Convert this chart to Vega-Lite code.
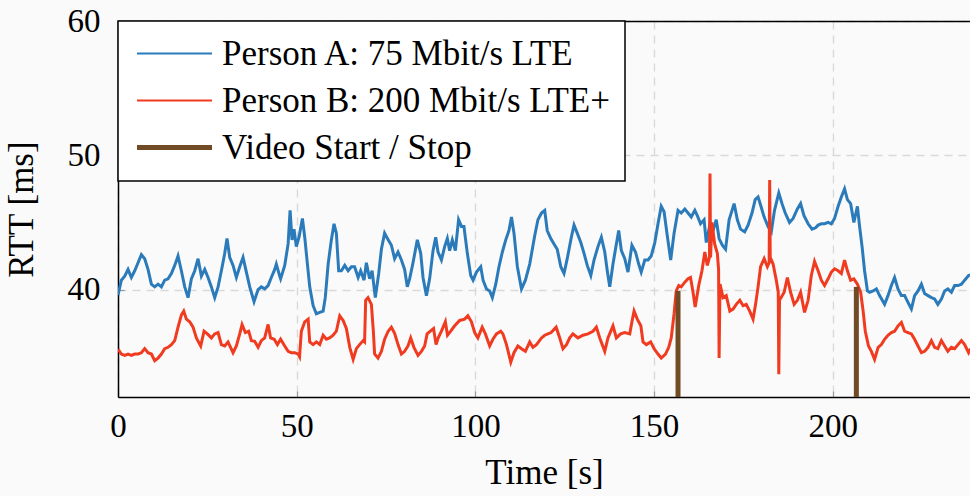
{
  "$schema": "https://vega.github.io/schema/vega-lite/v6.json",
  "width": 852,
  "height": 376,
  "autosize": {"type": "none"},
  "padding": {"left": 118, "top": 21, "right": 0, "bottom": 99},
  "background": "#fafafa",
  "config": {
    "view": {"stroke": null},
    "font": "Liberation Serif",
    "axis": {
      "domainColor": "black", "domainWidth": 1.5,
      "labelFont": "Liberation Serif", "labelFontSize": 33, "labelColor": "black",
      "titleFont": "Liberation Serif", "titleFontSize": 35, "titleFontWeight": "normal", "titleColor": "black",
      "tickColor": "#9a9a9a", "tickWidth": 1.2, "tickSize": -6,
      "gridColor": "#d9d9d9", "gridDash": [8, 6], "gridWidth": 1.4
    }
  },
  "datasets": {
    "rtt": [
      {"t":0.0,"rtt":39.6,"s":"A"},{"t":0.94,"rtt":40.7,"s":"A"},{"t":1.88,"rtt":41.0,"s":"A"},{"t":2.81,"rtt":41.5,"s":"A"},{"t":3.74,"rtt":40.9,"s":"A"},{"t":4.67,"rtt":41.4,"s":"A"},{"t":5.61,"rtt":42.0,"s":"A"},{"t":6.54,"rtt":42.6,"s":"A"},{"t":7.47,"rtt":42.3,"s":"A"},{"t":8.4,"rtt":41.5,"s":"A"},{"t":9.34,"rtt":40.4,"s":"A"},{"t":10.27,"rtt":40.2,"s":"A"},{"t":11.2,"rtt":40.4,"s":"A"},{"t":12.14,"rtt":40.2,"s":"A"},{"t":13.07,"rtt":40.7,"s":"A"},{"t":14.0,"rtt":40.8,"s":"A"},{"t":14.93,"rtt":41.2,"s":"A"},{"t":15.87,"rtt":41.8,"s":"A"},{"t":16.8,"rtt":42.5,"s":"A"},{"t":17.73,"rtt":41.4,"s":"A"},{"t":18.67,"rtt":40.2,"s":"A"},{"t":19.6,"rtt":39.4,"s":"A"},{"t":20.53,"rtt":40.8,"s":"A"},{"t":21.47,"rtt":41.4,"s":"A"},{"t":22.4,"rtt":42.3,"s":"A"},{"t":23.33,"rtt":41.0,"s":"A"},{"t":24.27,"rtt":41.5,"s":"A"},{"t":25.2,"rtt":40.9,"s":"A"},{"t":26.13,"rtt":40.2,"s":"A"},{"t":27.06,"rtt":39.4,"s":"A"},{"t":28.0,"rtt":40.2,"s":"A"},{"t":28.93,"rtt":41.4,"s":"A"},{"t":29.86,"rtt":42.7,"s":"A"},{"t":30.5,"rtt":43.8,"s":"A"},{"t":31.26,"rtt":42.4,"s":"A"},{"t":32.19,"rtt":41.8,"s":"A"},{"t":33.12,"rtt":40.9,"s":"A"},{"t":34.06,"rtt":41.7,"s":"A"},{"t":34.99,"rtt":42.4,"s":"A"},{"t":35.92,"rtt":41.3,"s":"A"},{"t":36.86,"rtt":40.2,"s":"A"},{"t":38.07,"rtt":39.1,"s":"A"},{"t":39.2,"rtt":40.0,"s":"A"},{"t":40.1,"rtt":40.2,"s":"A"},{"t":41.05,"rtt":40.05,"s":"A"},{"t":42.0,"rtt":40.3,"s":"A"},{"t":42.9,"rtt":40.9,"s":"A"},{"t":43.85,"rtt":41.5,"s":"A"},{"t":44.3,"rtt":41.9,"s":"A"},{"t":45.25,"rtt":41.0,"s":"A"},{"t":45.5,"rtt":40.8,"s":"A"},{"t":46.65,"rtt":41.8,"s":"A"},{"t":47.6,"rtt":43.4,"s":"A"},{"t":48.15,"rtt":45.9,"s":"A"},{"t":48.7,"rtt":43.7,"s":"A"},{"t":49.25,"rtt":44.5,"s":"A"},{"t":49.9,"rtt":43.2,"s":"A"},{"t":50.65,"rtt":43.9,"s":"A"},{"t":51.6,"rtt":45.3,"s":"A"},{"t":52.25,"rtt":43.9,"s":"A"},{"t":53.0,"rtt":41.9,"s":"A"},{"t":53.65,"rtt":40.2,"s":"A"},{"t":54.6,"rtt":38.8,"s":"A"},{"t":55.5,"rtt":38.2,"s":"A"},{"t":56.45,"rtt":38.3,"s":"A"},{"t":57.4,"rtt":38.4,"s":"A"},{"t":58.0,"rtt":39.4,"s":"A"},{"t":58.8,"rtt":41.9,"s":"A"},{"t":59.7,"rtt":43.7,"s":"A"},{"t":60.45,"rtt":44.9,"s":"A"},{"t":61.1,"rtt":44.2,"s":"A"},{"t":61.75,"rtt":41.4,"s":"A"},{"t":62.5,"rtt":41.4,"s":"A"},{"t":63.45,"rtt":41.8,"s":"A"},{"t":64.4,"rtt":41.4,"s":"A"},{"t":65.3,"rtt":41.7,"s":"A"},{"t":66.2,"rtt":41.7,"s":"A"},{"t":67.2,"rtt":40.9,"s":"A"},{"t":67.9,"rtt":41.4,"s":"A"},{"t":68.85,"rtt":40.7,"s":"A"},{"t":69.5,"rtt":42.0,"s":"A"},{"t":70.4,"rtt":40.8,"s":"A"},{"t":71.1,"rtt":41.4,"s":"A"},{"t":72.0,"rtt":39.4,"s":"A"},{"t":72.95,"rtt":41.2,"s":"A"},{"t":73.7,"rtt":43.0,"s":"A"},{"t":74.6,"rtt":44.2,"s":"A"},{"t":75.6,"rtt":43.7,"s":"A"},{"t":76.5,"rtt":43.3,"s":"A"},{"t":77.4,"rtt":42.3,"s":"A"},{"t":78.35,"rtt":42.8,"s":"A"},{"t":79.3,"rtt":42.2,"s":"A"},{"t":80.2,"rtt":41.5,"s":"A"},{"t":80.95,"rtt":40.2,"s":"A"},{"t":81.6,"rtt":40.8,"s":"A"},{"t":82.55,"rtt":42.0,"s":"A"},{"t":83.75,"rtt":43.7,"s":"A"},{"t":84.7,"rtt":42.7,"s":"A"},{"t":85.35,"rtt":40.9,"s":"A"},{"t":86.3,"rtt":39.55,"s":"A"},{"t":87.2,"rtt":40.8,"s":"A"},{"t":88.15,"rtt":42.9,"s":"A"},{"t":88.9,"rtt":43.9,"s":"A"},{"t":89.55,"rtt":42.8,"s":"A"},{"t":90.5,"rtt":42.2,"s":"A"},{"t":91.4,"rtt":43.2,"s":"A"},{"t":92.15,"rtt":43.8,"s":"A"},{"t":92.8,"rtt":42.9,"s":"A"},{"t":93.55,"rtt":43.7,"s":"A"},{"t":94.4,"rtt":42.9,"s":"A"},{"t":95.3,"rtt":45.2,"s":"A"},{"t":96.1,"rtt":44.7,"s":"A"},{"t":96.8,"rtt":44.7,"s":"A"},{"t":97.75,"rtt":42.7,"s":"A"},{"t":98.7,"rtt":41.05,"s":"A"},{"t":99.35,"rtt":40.7,"s":"A"},{"t":100.3,"rtt":41.3,"s":"A"},{"t":101.5,"rtt":41.7,"s":"A"},{"t":102.15,"rtt":40.7,"s":"A"},{"t":103.1,"rtt":40.05,"s":"A"},{"t":104.0,"rtt":39.9,"s":"A"},{"t":104.75,"rtt":39.4,"s":"A"},{"t":105.7,"rtt":40.4,"s":"A"},{"t":106.6,"rtt":41.7,"s":"A"},{"t":107.55,"rtt":42.8,"s":"A"},{"t":108.5,"rtt":43.7,"s":"A"},{"t":109.4,"rtt":44.4,"s":"A"},{"t":110.1,"rtt":45.4,"s":"A"},{"t":110.8,"rtt":44.2,"s":"A"},{"t":111.75,"rtt":41.7,"s":"A"},{"t":112.9,"rtt":40.05,"s":"A"},{"t":114.0,"rtt":40.7,"s":"A"},{"t":115.2,"rtt":41.9,"s":"A"},{"t":116.6,"rtt":44.0,"s":"A"},{"t":117.5,"rtt":45.2,"s":"A"},{"t":118.5,"rtt":45.7,"s":"A"},{"t":119.4,"rtt":45.9,"s":"A"},{"t":120.1,"rtt":44.4,"s":"A"},{"t":121.1,"rtt":43.8,"s":"A"},{"t":122.0,"rtt":43.4,"s":"A"},{"t":122.9,"rtt":43.0,"s":"A"},{"t":123.9,"rtt":41.7,"s":"A"},{"t":124.8,"rtt":41.2,"s":"A"},{"t":125.7,"rtt":42.3,"s":"A"},{"t":126.85,"rtt":43.9,"s":"A"},{"t":127.6,"rtt":44.8,"s":"A"},{"t":128.5,"rtt":44.2,"s":"A"},{"t":129.5,"rtt":43.5,"s":"A"},{"t":130.4,"rtt":42.7,"s":"A"},{"t":131.3,"rtt":41.8,"s":"A"},{"t":132.3,"rtt":41.05,"s":"A"},{"t":133.2,"rtt":42.2,"s":"A"},{"t":134.3,"rtt":43.2,"s":"A"},{"t":135.25,"rtt":43.9,"s":"A"},{"t":136.2,"rtt":42.8,"s":"A"},{"t":136.9,"rtt":41.4,"s":"A"},{"t":137.6,"rtt":40.2,"s":"A"},{"t":138.5,"rtt":41.9,"s":"A"},{"t":139.45,"rtt":43.4,"s":"A"},{"t":140.1,"rtt":44.4,"s":"A"},{"t":140.85,"rtt":42.9,"s":"A"},{"t":141.8,"rtt":42.3,"s":"A"},{"t":142.7,"rtt":41.3,"s":"A"},{"t":143.8,"rtt":43.3,"s":"A"},{"t":144.8,"rtt":42.8,"s":"A"},{"t":145.7,"rtt":41.9,"s":"A"},{"t":146.4,"rtt":41.3,"s":"A"},{"t":147.4,"rtt":42.2,"s":"A"},{"t":148.3,"rtt":42.2,"s":"A"},{"t":149.2,"rtt":42.5,"s":"A"},{"t":150.2,"rtt":43.5,"s":"A"},{"t":151.1,"rtt":44.9,"s":"A"},{"t":152.0,"rtt":46.2,"s":"A"},{"t":152.8,"rtt":45.8,"s":"A"},{"t":153.7,"rtt":44.0,"s":"A"},{"t":154.65,"rtt":42.2,"s":"A"},{"t":155.6,"rtt":44.2,"s":"A"},{"t":156.7,"rtt":45.9,"s":"A"},{"t":157.6,"rtt":45.7,"s":"A"},{"t":158.6,"rtt":46.0,"s":"A"},{"t":159.5,"rtt":45.7,"s":"A"},{"t":160.4,"rtt":45.4,"s":"A"},{"t":161.4,"rtt":45.9,"s":"A"},{"t":162.1,"rtt":45.5,"s":"A"},{"t":163.0,"rtt":44.9,"s":"A"},{"t":164.0,"rtt":45.2,"s":"A"},{"t":164.6,"rtt":43.5,"s":"A"},{"t":165.6,"rtt":44.8,"s":"A"},{"t":166.5,"rtt":44.4,"s":"A"},{"t":167.4,"rtt":45.2,"s":"A"},{"t":168.2,"rtt":43.8,"s":"A"},{"t":169.1,"rtt":43.3,"s":"A"},{"t":170.0,"rtt":43.0,"s":"A"},{"t":171.0,"rtt":45.2,"s":"A"},{"t":172.4,"rtt":46.4,"s":"A"},{"t":173.3,"rtt":45.2,"s":"A"},{"t":174.2,"rtt":44.5,"s":"A"},{"t":175.35,"rtt":44.3,"s":"A"},{"t":176.3,"rtt":44.8,"s":"A"},{"t":177.4,"rtt":45.7,"s":"A"},{"t":178.3,"rtt":46.7,"s":"A"},{"t":179.1,"rtt":46.9,"s":"A"},{"t":179.8,"rtt":46.3,"s":"A"},{"t":180.8,"rtt":45.4,"s":"A"},{"t":181.9,"rtt":44.7,"s":"A"},{"t":182.8,"rtt":44.3,"s":"A"},{"t":183.7,"rtt":45.9,"s":"A"},{"t":184.9,"rtt":47.2,"s":"A"},{"t":185.8,"rtt":46.4,"s":"A"},{"t":186.7,"rtt":45.7,"s":"A"},{"t":187.9,"rtt":45.0,"s":"A"},{"t":188.9,"rtt":45.3,"s":"A"},{"t":190.1,"rtt":46.0,"s":"A"},{"t":191.0,"rtt":46.4,"s":"A"},{"t":191.95,"rtt":45.5,"s":"A"},{"t":193.1,"rtt":44.9,"s":"A"},{"t":194.2,"rtt":44.5,"s":"A"},{"t":195.2,"rtt":44.6,"s":"A"},{"t":195.9,"rtt":44.8,"s":"A"},{"t":196.8,"rtt":44.9,"s":"A"},{"t":197.7,"rtt":44.9,"s":"A"},{"t":198.7,"rtt":45.0,"s":"A"},{"t":199.6,"rtt":44.9,"s":"A"},{"t":200.5,"rtt":45.3,"s":"A"},{"t":201.5,"rtt":46.2,"s":"A"},{"t":202.4,"rtt":46.9,"s":"A"},{"t":203.3,"rtt":47.5,"s":"A"},{"t":204.1,"rtt":46.7,"s":"A"},{"t":205.0,"rtt":46.4,"s":"A"},{"t":205.9,"rtt":45.0,"s":"A"},{"t":206.9,"rtt":46.2,"s":"A"},{"t":207.5,"rtt":44.7,"s":"A"},{"t":208.2,"rtt":43.2,"s":"A"},{"t":208.9,"rtt":41.4,"s":"A"},{"t":209.7,"rtt":39.9,"s":"A"},{"t":210.3,"rtt":39.8,"s":"A"},{"t":211.3,"rtt":39.9,"s":"A"},{"t":212.2,"rtt":40.05,"s":"A"},{"t":213.1,"rtt":39.55,"s":"A"},{"t":214.5,"rtt":38.9,"s":"A"},{"t":215.45,"rtt":39.55,"s":"A"},{"t":216.4,"rtt":40.3,"s":"A"},{"t":217.3,"rtt":40.9,"s":"A"},{"t":218.25,"rtt":40.05,"s":"A"},{"t":219.2,"rtt":39.55,"s":"A"},{"t":220.1,"rtt":39.55,"s":"A"},{"t":221.05,"rtt":39.05,"s":"A"},{"t":222.0,"rtt":38.55,"s":"A"},{"t":222.9,"rtt":39.55,"s":"A"},{"t":223.85,"rtt":39.9,"s":"A"},{"t":224.8,"rtt":40.4,"s":"A"},{"t":225.7,"rtt":39.7,"s":"A"},{"t":226.65,"rtt":39.55,"s":"A"},{"t":227.6,"rtt":39.4,"s":"A"},{"t":228.5,"rtt":39.3,"s":"A"},{"t":229.4,"rtt":38.9,"s":"A"},{"t":230.4,"rtt":39.3,"s":"A"},{"t":231.3,"rtt":39.9,"s":"A"},{"t":232.2,"rtt":40.05,"s":"A"},{"t":233.2,"rtt":39.8,"s":"A"},{"t":234.1,"rtt":40.3,"s":"A"},{"t":235.05,"rtt":40.3,"s":"A"},{"t":236.0,"rtt":40.4,"s":"A"},{"t":236.9,"rtt":40.7,"s":"A"},{"t":238.0,"rtt":41.05,"s":"A"},{"t":238.6,"rtt":41.1,"s":"A"},

      {"t":0.0,"rtt":35.56,"s":"B"},{"t":0.94,"rtt":35.2,"s":"B"},{"t":1.88,"rtt":35.1,"s":"B"},{"t":2.81,"rtt":35.2,"s":"B"},{"t":3.74,"rtt":35.1,"s":"B"},{"t":4.67,"rtt":35.2,"s":"B"},{"t":5.61,"rtt":35.2,"s":"B"},{"t":6.54,"rtt":35.3,"s":"B"},{"t":7.47,"rtt":35.6,"s":"B"},{"t":8.4,"rtt":35.3,"s":"B"},{"t":9.34,"rtt":35.2,"s":"B"},{"t":10.27,"rtt":34.7,"s":"B"},{"t":11.2,"rtt":34.9,"s":"B"},{"t":12.14,"rtt":35.2,"s":"B"},{"t":13.07,"rtt":35.6,"s":"B"},{"t":14.0,"rtt":35.7,"s":"B"},{"t":14.93,"rtt":35.9,"s":"B"},{"t":15.87,"rtt":36.2,"s":"B"},{"t":16.8,"rtt":37.2,"s":"B"},{"t":17.73,"rtt":38.1,"s":"B"},{"t":18.39,"rtt":38.4,"s":"B"},{"t":19.14,"rtt":37.8,"s":"B"},{"t":20.07,"rtt":37.6,"s":"B"},{"t":21.0,"rtt":37.2,"s":"B"},{"t":21.93,"rtt":36.4,"s":"B"},{"t":23.14,"rtt":35.8,"s":"B"},{"t":24.08,"rtt":36.9,"s":"B"},{"t":25.01,"rtt":36.7,"s":"B"},{"t":26.13,"rtt":36.4,"s":"B"},{"t":27.06,"rtt":36.7,"s":"B"},{"t":28.0,"rtt":36.8,"s":"B"},{"t":28.93,"rtt":35.9,"s":"B"},{"t":29.86,"rtt":35.8,"s":"B"},{"t":30.79,"rtt":36.1,"s":"B"},{"t":32.19,"rtt":35.3,"s":"B"},{"t":33.12,"rtt":35.8,"s":"B"},{"t":34.06,"rtt":36.7,"s":"B"},{"t":34.71,"rtt":37.4,"s":"B"},{"t":35.64,"rtt":36.8,"s":"B"},{"t":36.58,"rtt":36.9,"s":"B"},{"t":37.32,"rtt":36.2,"s":"B"},{"t":38.25,"rtt":36.15,"s":"B"},{"t":39.2,"rtt":35.7,"s":"B"},{"t":40.1,"rtt":36.2,"s":"B"},{"t":41.05,"rtt":36.4,"s":"B"},{"t":42.0,"rtt":37.4,"s":"B"},{"t":42.7,"rtt":36.4,"s":"B"},{"t":43.7,"rtt":36.3,"s":"B"},{"t":44.6,"rtt":35.9,"s":"B"},{"t":45.5,"rtt":36.3,"s":"B"},{"t":46.65,"rtt":35.8,"s":"B"},{"t":47.6,"rtt":35.4,"s":"B"},{"t":48.5,"rtt":35.3,"s":"B"},{"t":49.45,"rtt":35.3,"s":"B"},{"t":50.4,"rtt":35.2,"s":"B"},{"t":50.8,"rtt":35.0,"s":"B"},{"t":51.3,"rtt":36.9,"s":"B"},{"t":52.25,"rtt":37.6,"s":"B"},{"t":53.2,"rtt":37.8,"s":"B"},{"t":53.65,"rtt":36.1,"s":"B"},{"t":54.6,"rtt":35.9,"s":"B"},{"t":55.5,"rtt":36.1,"s":"B"},{"t":56.45,"rtt":35.9,"s":"B"},{"t":57.4,"rtt":36.6,"s":"B"},{"t":58.3,"rtt":36.3,"s":"B"},{"t":59.2,"rtt":36.4,"s":"B"},{"t":60.2,"rtt":36.6,"s":"B"},{"t":61.1,"rtt":36.9,"s":"B"},{"t":62.05,"rtt":38.05,"s":"B"},{"t":63.0,"rtt":37.7,"s":"B"},{"t":63.9,"rtt":37.1,"s":"B"},{"t":64.85,"rtt":35.7,"s":"B"},{"t":65.8,"rtt":34.8,"s":"B"},{"t":66.7,"rtt":35.6,"s":"B"},{"t":67.6,"rtt":35.9,"s":"B"},{"t":68.6,"rtt":36.2,"s":"B"},{"t":69.0,"rtt":36.1,"s":"B"},{"t":69.3,"rtt":39.2,"s":"B"},{"t":69.95,"rtt":39.4,"s":"B"},{"t":70.9,"rtt":38.9,"s":"B"},{"t":71.45,"rtt":36.9,"s":"B"},{"t":71.8,"rtt":35.2,"s":"B"},{"t":72.75,"rtt":34.9,"s":"B"},{"t":73.7,"rtt":35.4,"s":"B"},{"t":74.6,"rtt":36.3,"s":"B"},{"t":75.6,"rtt":36.9,"s":"B"},{"t":76.5,"rtt":37.2,"s":"B"},{"t":77.4,"rtt":36.75,"s":"B"},{"t":78.35,"rtt":35.9,"s":"B"},{"t":79.3,"rtt":35.2,"s":"B"},{"t":80.2,"rtt":35.4,"s":"B"},{"t":81.15,"rtt":35.8,"s":"B"},{"t":81.9,"rtt":36.4,"s":"B"},{"t":82.8,"rtt":35.7,"s":"B"},{"t":83.95,"rtt":35.1,"s":"B"},{"t":84.9,"rtt":35.4,"s":"B"},{"t":85.8,"rtt":35.8,"s":"B"},{"t":86.5,"rtt":36.7,"s":"B"},{"t":87.4,"rtt":36.9,"s":"B"},{"t":88.3,"rtt":37.1,"s":"B"},{"t":89.0,"rtt":35.9,"s":"B"},{"t":89.6,"rtt":36.4,"s":"B"},{"t":90.5,"rtt":36.9,"s":"B"},{"t":91.6,"rtt":37.6,"s":"B"},{"t":92.2,"rtt":36.6,"s":"B"},{"t":93.1,"rtt":36.9,"s":"B"},{"t":94.2,"rtt":37.3,"s":"B"},{"t":95.6,"rtt":37.7,"s":"B"},{"t":97.0,"rtt":37.8,"s":"B"},{"t":97.9,"rtt":38.05,"s":"B"},{"t":98.9,"rtt":37.6,"s":"B"},{"t":99.8,"rtt":36.8,"s":"B"},{"t":100.7,"rtt":36.4,"s":"B"},{"t":101.9,"rtt":37.2,"s":"B"},{"t":102.8,"rtt":36.7,"s":"B"},{"t":104.0,"rtt":35.8,"s":"B"},{"t":104.9,"rtt":36.3,"s":"B"},{"t":105.9,"rtt":36.7,"s":"B"},{"t":107.1,"rtt":36.9,"s":"B"},{"t":107.7,"rtt":36.7,"s":"B"},{"t":108.7,"rtt":35.9,"s":"B"},{"t":109.9,"rtt":34.6,"s":"B"},{"t":110.8,"rtt":35.3,"s":"B"},{"t":111.9,"rtt":35.8,"s":"B"},{"t":112.9,"rtt":35.6,"s":"B"},{"t":114.0,"rtt":35.4,"s":"B"},{"t":115.2,"rtt":36.1,"s":"B"},{"t":116.1,"rtt":35.7,"s":"B"},{"t":117.1,"rtt":35.9,"s":"B"},{"t":118.5,"rtt":36.4,"s":"B"},{"t":119.4,"rtt":36.6,"s":"B"},{"t":120.3,"rtt":36.7,"s":"B"},{"t":121.2,"rtt":36.8,"s":"B"},{"t":122.6,"rtt":37.2,"s":"B"},{"t":123.6,"rtt":36.4,"s":"B"},{"t":124.5,"rtt":35.6,"s":"B"},{"t":125.5,"rtt":35.9,"s":"B"},{"t":126.4,"rtt":36.4,"s":"B"},{"t":127.3,"rtt":36.7,"s":"B"},{"t":128.7,"rtt":36.4,"s":"B"},{"t":130.1,"rtt":36.6,"s":"B"},{"t":131.5,"rtt":36.7,"s":"B"},{"t":132.9,"rtt":36.9,"s":"B"},{"t":133.85,"rtt":37.2,"s":"B"},{"t":134.8,"rtt":36.4,"s":"B"},{"t":136.2,"rtt":35.4,"s":"B"},{"t":137.1,"rtt":36.4,"s":"B"},{"t":138.5,"rtt":37.3,"s":"B"},{"t":139.45,"rtt":36.4,"s":"B"},{"t":140.65,"rtt":36.7,"s":"B"},{"t":141.8,"rtt":36.8,"s":"B"},{"t":143.2,"rtt":36.7,"s":"B"},{"t":143.8,"rtt":37.6,"s":"B"},{"t":144.4,"rtt":38.4,"s":"B"},{"t":145.3,"rtt":37.8,"s":"B"},{"t":146.3,"rtt":37.3,"s":"B"},{"t":146.9,"rtt":36.1,"s":"B"},{"t":147.85,"rtt":35.9,"s":"B"},{"t":149.05,"rtt":36.1,"s":"B"},{"t":150.0,"rtt":35.6,"s":"B"},{"t":151.1,"rtt":35.2,"s":"B"},{"t":152.0,"rtt":34.9,"s":"B"},{"t":153.2,"rtt":35.2,"s":"B"},{"t":154.1,"rtt":35.7,"s":"B"},{"t":154.8,"rtt":36.4,"s":"B"},{"t":155.6,"rtt":38.2,"s":"B"},{"t":156.2,"rtt":39.9,"s":"B"},{"t":156.9,"rtt":40.3,"s":"B"},{"t":157.6,"rtt":40.2,"s":"B"},{"t":158.6,"rtt":40.55,"s":"B"},{"t":159.5,"rtt":40.8,"s":"B"},{"t":160.2,"rtt":40.9,"s":"B"},{"t":160.9,"rtt":39.8,"s":"B"},{"t":161.5,"rtt":38.7,"s":"B"},{"t":162.5,"rtt":40.3,"s":"B"},{"t":163.4,"rtt":41.4,"s":"B"},{"t":164.2,"rtt":42.8,"s":"B"},{"t":164.9,"rtt":41.8,"s":"B"},{"t":165.5,"rtt":42.4,"s":"B"},{"t":165.65,"rtt":48.65,"s":"B"},{"t":165.8,"rtt":42.4,"s":"B"},{"t":166.2,"rtt":45.0,"s":"B"},{"t":166.95,"rtt":43.4,"s":"B"},{"t":167.7,"rtt":42.7,"s":"B"},{"t":168.05,"rtt":41.5,"s":"B"},{"t":168.2,"rtt":34.9,"s":"B"},{"t":168.45,"rtt":40.4,"s":"B"},{"t":169.3,"rtt":39.4,"s":"B"},{"t":170.2,"rtt":39.55,"s":"B"},{"t":171.2,"rtt":38.4,"s":"B"},{"t":172.1,"rtt":38.55,"s":"B"},{"t":173.0,"rtt":38.9,"s":"B"},{"t":174.0,"rtt":39.2,"s":"B"},{"t":174.9,"rtt":38.8,"s":"B"},{"t":175.8,"rtt":38.9,"s":"B"},{"t":176.75,"rtt":38.4,"s":"B"},{"t":177.7,"rtt":37.8,"s":"B"},{"t":178.4,"rtt":38.9,"s":"B"},{"t":179.1,"rtt":40.2,"s":"B"},{"t":179.8,"rtt":41.7,"s":"B"},{"t":180.8,"rtt":42.3,"s":"B"},{"t":181.7,"rtt":41.7,"s":"B"},{"t":182.2,"rtt":42.0,"s":"B"},{"t":182.35,"rtt":48.15,"s":"B"},{"t":182.5,"rtt":42.4,"s":"B"},{"t":183.3,"rtt":41.9,"s":"B"},{"t":184.2,"rtt":40.7,"s":"B"},{"t":184.75,"rtt":39.8,"s":"B"},{"t":184.9,"rtt":33.7,"s":"B"},{"t":185.1,"rtt":39.2,"s":"B"},{"t":186.4,"rtt":39.8,"s":"B"},{"t":187.3,"rtt":40.9,"s":"B"},{"t":188.2,"rtt":39.8,"s":"B"},{"t":189.2,"rtt":38.9,"s":"B"},{"t":190.1,"rtt":39.2,"s":"B"},{"t":191.0,"rtt":39.8,"s":"B"},{"t":192.1,"rtt":38.3,"s":"B"},{"t":193.1,"rtt":39.2,"s":"B"},{"t":194.0,"rtt":41.05,"s":"B"},{"t":194.9,"rtt":42.1,"s":"B"},{"t":195.9,"rtt":41.4,"s":"B"},{"t":196.8,"rtt":40.7,"s":"B"},{"t":197.7,"rtt":40.3,"s":"B"},{"t":198.7,"rtt":40.8,"s":"B"},{"t":199.6,"rtt":41.3,"s":"B"},{"t":200.5,"rtt":41.55,"s":"B"},{"t":201.5,"rtt":41.4,"s":"B"},{"t":202.4,"rtt":41.2,"s":"B"},{"t":203.3,"rtt":42.2,"s":"B"},{"t":204.1,"rtt":41.4,"s":"B"},{"t":205.0,"rtt":40.7,"s":"B"},{"t":205.9,"rtt":40.8,"s":"B"},{"t":206.9,"rtt":40.4,"s":"B"},{"t":207.8,"rtt":39.8,"s":"B"},{"t":208.5,"rtt":38.4,"s":"B"},{"t":209.1,"rtt":36.9,"s":"B"},{"t":210.0,"rtt":35.8,"s":"B"},{"t":210.8,"rtt":35.4,"s":"B"},{"t":211.7,"rtt":34.8,"s":"B"},{"t":212.7,"rtt":35.7,"s":"B"},{"t":213.6,"rtt":35.9,"s":"B"},{"t":214.5,"rtt":36.3,"s":"B"},{"t":215.45,"rtt":36.6,"s":"B"},{"t":216.4,"rtt":36.8,"s":"B"},{"t":217.3,"rtt":36.9,"s":"B"},{"t":218.25,"rtt":37.3,"s":"B"},{"t":219.2,"rtt":37.55,"s":"B"},{"t":220.1,"rtt":36.9,"s":"B"},{"t":221.05,"rtt":36.8,"s":"B"},{"t":222.0,"rtt":36.7,"s":"B"},{"t":222.9,"rtt":36.3,"s":"B"},{"t":223.85,"rtt":35.8,"s":"B"},{"t":224.8,"rtt":35.3,"s":"B"},{"t":225.7,"rtt":35.4,"s":"B"},{"t":226.65,"rtt":35.7,"s":"B"},{"t":227.6,"rtt":36.2,"s":"B"},{"t":228.5,"rtt":35.7,"s":"B"},{"t":229.4,"rtt":35.6,"s":"B"},{"t":230.4,"rtt":36.2,"s":"B"},{"t":231.3,"rtt":35.8,"s":"B"},{"t":232.2,"rtt":35.4,"s":"B"},{"t":233.2,"rtt":35.7,"s":"B"},{"t":234.1,"rtt":35.6,"s":"B"},{"t":235.05,"rtt":35.9,"s":"B"},{"t":236.0,"rtt":36.2,"s":"B"},{"t":236.9,"rtt":35.9,"s":"B"},{"t":238.0,"rtt":35.3,"s":"B"},{"t":238.6,"rtt":35.6,"s":"B"}
    ],
    "video": [
      {"t": 156.7, "rtt": 39.9, "s": "V"},
      {"t": 206.6, "rtt": 40.2, "s": "V"}
    ]
  },
  "encoding": {
    "color": {
      "field": "s", "type": "nominal",
      "scale": {"domain": ["A", "B", "V"], "range": ["#2b7bba", "#f03b20", "#704b25"]},
      "legend": {
        "title": null, "orient": "top-left", "offset": 0,
        "symbolType": "stroke", "symbolSize": 5625, "symbolStrokeWidth": 2, "symbolOffset": 24,
        "labelExpr": "datum.value == 'A' ? 'Person A: 75 Mbit/s LTE' : datum.value == 'B' ? 'Person B: 200 Mbit/s LTE+' : 'Video Start / Stop'",
        "labelFont": "Liberation Serif", "labelFontSize": 35, "labelColor": "black", "labelLimit": 700,
        "labelOffset": 30, "fillColor": "white", "strokeColor": "black",
        "padding": 15, "rowPadding": 11, "cornerRadius": 0,
        "encode": {
          "symbols": {"update": {"strokeWidth": {"signal": "datum.value == 'V' ? 5 : 2"}}},
          "legend": {"update": {"strokeWidth": {"value": 1.5}}}
        }
      }
    }
  },
  "layer": [
    {
      "data": {"name": "rtt"},
      "mark": {"type": "line", "strokeWidth": 3, "clip": true},
      "encoding": {
        "x": {"field": "t", "type": "quantitative", "scale": {"domain": [0, 238.4], "nice": false, "zero": false},
              "axis": {"values": [0, 50, 100, 150, 200], "grid": true, "title": "Time [s]", "labelPadding": 19, "titlePadding": 12, "labelFlush": false}},
        "y": {"field": "rtt", "type": "quantitative", "scale": {"domain": [32, 60], "nice": false, "zero": false},
              "axis": {"values": [40, 50, 60], "grid": true, "title": "RTT [ms]", "labelPadding": 24, "titlePadding": 28}},
        "detail": {"field": "s"}
      }
    },
    {
      "data": {"name": "video"},
      "mark": {"type": "rule", "strokeWidth": 5, "clip": true},
      "encoding": {
        "x": {"field": "t", "type": "quantitative",
              "axis": {"orient": "top", "labels": false, "ticks": false, "grid": false, "title": null, "domain": true}},
        "y": {"field": "rtt", "type": "quantitative"},
        "y2": {"datum": 32}
      }
    }
  ],
  "resolve": {"axis": {"x": "independent"}}
}
